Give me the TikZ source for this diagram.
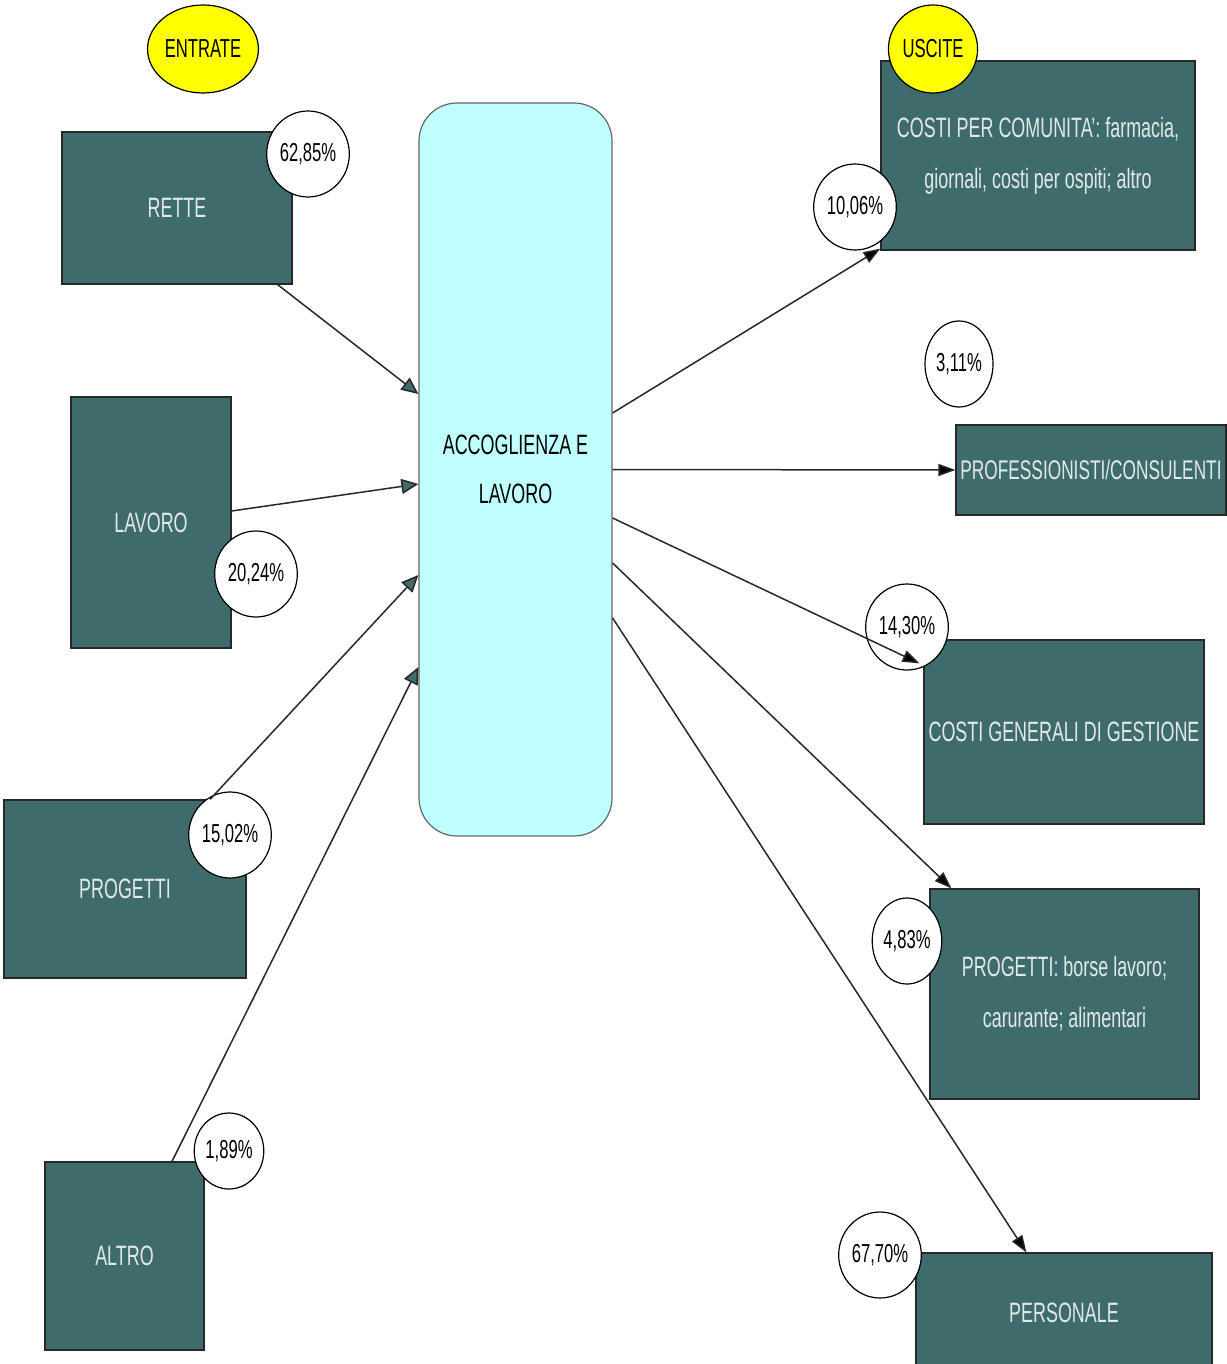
\documentclass[tikz,border=0pt]{standalone}
\usepackage{fontspec}
\setmainfont[FakeStretch=0.64]{Liberation Sans}
\usetikzlibrary{arrows.meta}
\usetikzlibrary{positioning}
\usetikzlibrary{shapes.geometric}
\definecolor{boxteal}{RGB}{62,108,108}
\definecolor{boxtext}{RGB}{228,232,232}
\definecolor{centrecyan}{RGB}{192,255,255}
\definecolor{tagyellow}{RGB}{255,255,0}
\definecolor{linegray}{RGB}{40,40,40}
\tikzset{block/.style={draw=linegray, line width=1.2pt, fill=boxteal, text=boxtext, text centered, align=center, inner sep=1pt, font=\fontsize{28}{51}\selectfont}}
\tikzset{centre/.style={draw=gray!80!black, line width=1.2pt, fill=centrecyan, rounded corners=38pt, align=center, font=\fontsize{28}{49}\selectfont}}
\tikzset{perc/.style={draw=black, ellipse, line width=1.2pt, fill=white, inner sep=1pt, font=\fontsize{26}{30}\selectfont}}
\tikzset{tag/.style={draw=black, ellipse, line width=1.2pt, fill=tagyellow, inner sep=1pt, font=\fontsize{26}{30}\selectfont}}
\tikzset{connect/.style={draw=linegray, line width=1.5pt}}
\tikzset{inarrow/.style={-{Triangle[length=17pt,width=15pt,fill=boxteal]}}}
\tikzset{outarrow/.style={-{Triangle[length=17pt,width=12pt,fill=black]}}}
\begin{document}
\begin{tikzpicture}[x=1pt,y=-1pt]
\useasboundingbox[fill=white] (0,0) rectangle (1226,1364);

\node[centre,minimum width=193pt,minimum height=733pt] (acc) at (515.5,469.5) {ACCOGLIENZA E\\LAVORO};

\node[block,minimum width=230pt,minimum height=152pt] (rette) at (177,208) {RETTE};
\node[block,minimum width=160pt,minimum height=251pt] (lavoro) at (151,522.5) {LAVORO};
\node[block,minimum width=242pt,minimum height=178pt] (progetti) at (125,889) {PROGETTI};
\node[block,minimum width=159pt,minimum height=188pt] (altro) at (124.5,1256) {ALTRO};

\node[block,minimum width=314pt,minimum height=189pt] (comunita) at (1038,155.5) {COSTI PER COMUNITA': farmacia,\\giornali, costi per ospiti; altro};
\node[block,minimum width=270pt,minimum height=90pt,font=\fontsize{27}{30}\selectfont] (prof) at (1091,470) {PROFESSIONISTI/CONSULENTI};
\node[block,minimum width=280pt,minimum height=184pt] (generali) at (1064,732) {COSTI GENERALI DI GESTIONE};
\node[block,minimum width=269pt,minimum height=210pt] (borse) at (1064.5,994) {PROGETTI: borse lavoro;\\carurante; alimentari};
\node[block,minimum width=296pt,minimum height=120pt] (personale) at (1064,1313) {PERSONALE};

\node[tag,minimum width=104pt,minimum height=88pt] (entrate) at (203,49) {ENTRATE};
\node[tag,minimum width=84pt,minimum height=88pt] (uscite) at (933,49) {USCITE};

\node[perc,minimum width=82pt,minimum height=86pt] (prette) at (308,154) {62,85\%};
\node[perc,minimum width=80pt,minimum height=86pt] (plavoro) at (256,574) {20,24\%};
\node[perc,minimum width=80pt,minimum height=86pt] (pprogetti) at (230,835) {15,02\%};
\node[perc,minimum width=66pt,minimum height=76pt] (paltro) at (229,1151) {1,89\%};

\node[perc,minimum width=82pt,minimum height=86pt] (pcomunita) at (855,207) {10,06\%};
\node[perc,minimum width=68pt,minimum height=86pt] (pprof) at (959,364) {3,11\%};
\node[perc,minimum width=80pt,minimum height=86pt] (pgenerali) at (907,627) {14,30\%};
\node[perc,minimum width=66pt,minimum height=86pt] (pborse) at (907,941) {4,83\%};
\node[perc,minimum width=80pt,minimum height=86pt] (ppersonale) at (880,1255) {67,70\%};

\path[connect,inarrow] ([xshift=-15pt]rette.south east) -- ([yshift=75.5pt]acc.west);
\path[connect,inarrow] ([yshift=11.5pt]lavoro.east) -- ([yshift=-14.5pt]acc.west);
\path[connect,inarrow] ([xshift=85pt]progetti.north) -- ([yshift=-105.5pt]acc.west);
\path[connect,inarrow] ([xshift=47.5pt]altro.north) -- ([yshift=-197.5pt]acc.west);

\path[connect,outarrow] ([yshift=56.5pt]acc.east) -- ([yshift=2pt]comunita.south west);
\path[connect,outarrow] (acc.east) -- (prof.west);
\path[connect,outarrow] ([yshift=-48.5pt]acc.east) -- ([xshift=-4pt,yshift=-24pt]generali.north west);
\path[connect,outarrow] ([yshift=-93.5pt]acc.east) -- ([xshift=22pt]borse.north west);
\path[connect,outarrow] ([yshift=-148.5pt]acc.east) -- ([xshift=111pt]personale.north west);

\end{tikzpicture}
\end{document}
